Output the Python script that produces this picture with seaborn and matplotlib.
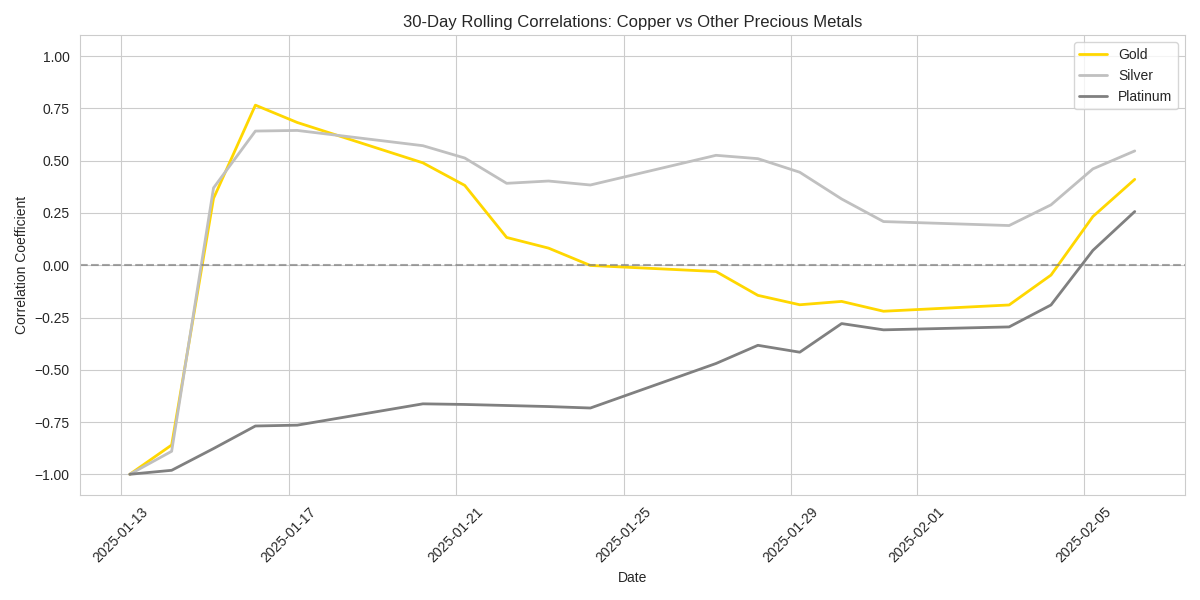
import pandas as pd
import matplotlib
matplotlib.use("Agg")
import matplotlib.pyplot as plt
import seaborn as sns

# trading days (yfinance-style, midnight New York time)
dates = ["2025-01-13", "2025-01-14", "2025-01-15", "2025-01-16", "2025-01-17",
         "2025-01-20", "2025-01-21", "2025-01-22", "2025-01-23", "2025-01-24",
         "2025-01-27", "2025-01-28", "2025-01-29", "2025-01-30", "2025-01-31",
         "2025-02-03", "2025-02-04", "2025-02-05", "2025-02-06"]

gold = [-1.00, -0.86, 0.32, 0.766, 0.683,
        0.49, 0.382, 0.133, 0.082, -0.001,
        -0.03, -0.144, -0.189, -0.173, -0.22,
        -0.19, -0.047, 0.233, 0.411]

silver = [-1.00, -0.89, 0.37, 0.642, 0.645,
          0.572, 0.513, 0.392, 0.403, 0.384,
          0.526, 0.51, 0.445, 0.317, 0.209,
          0.19, 0.289, 0.461, 0.547]

platinum = [-1.00, -0.981, -0.877, -0.769, -0.765,
            -0.663, -0.666, -0.671, -0.676, -0.683,
            -0.47, -0.383, -0.416, -0.279, -0.309,
            -0.295, -0.19, 0.071, 0.257]

metals = ["Gold", "Silver", "Platinum"]
colors = {"Gold": "#FFD700", "Silver": "#C0C0C0", "Platinum": "#808080"}

idx = (pd.to_datetime(dates).tz_localize("America/New_York")
       .tz_convert("UTC").tz_localize(None))
df = pd.DataFrame({"Date": idx, "Gold": gold, "Silver": silver, "Platinum": platinum})

sns.set_style("whitegrid")
plt.rcParams["font.family"] = ["Liberation Sans", "DejaVu Sans"]
fig, ax = plt.subplots(figsize=(12, 6))

for m in metals:
    sns.lineplot(data=df, x="Date", y=m, ax=ax, color=colors[m], linewidth=2, label=m)

ax.axhline(0, color="gray", linestyle="--", alpha=0.7)
ax.set_ylim(-1.1, 1.1)
ax.set_title("30-Day Rolling Correlations: Copper vs Other Precious Metals")
ax.set_xlabel("Date")
ax.set_ylabel("Correlation Coefficient")
ax.legend(loc="upper right")
plt.xticks(rotation=45)

plt.tight_layout()
plt.savefig("out.png", dpi=100)
